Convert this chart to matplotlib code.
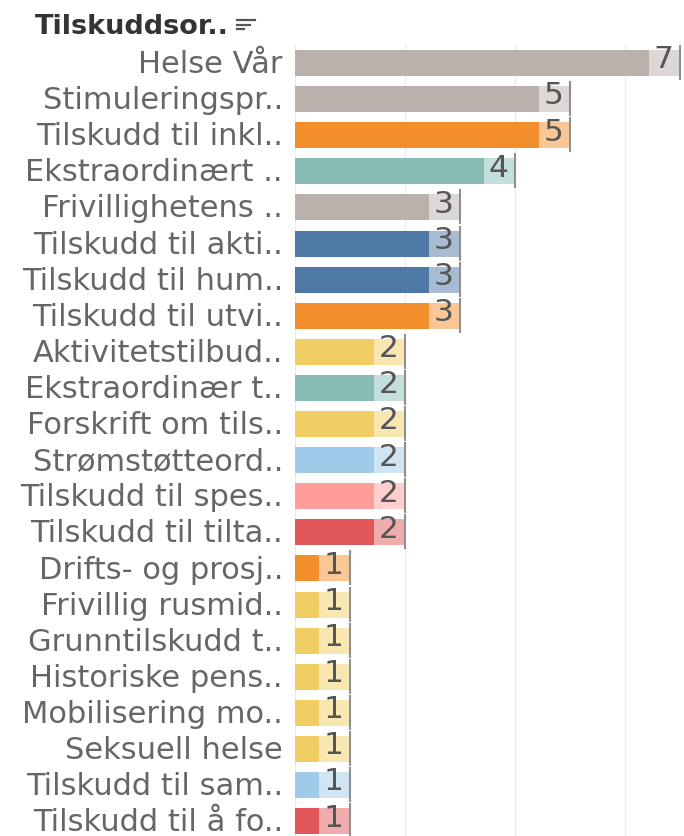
import matplotlib.pyplot as plt
from matplotlib.lines import Line2D
from matplotlib.colors import to_rgb

categories = [
    "Helse Vår", "Stimuleringspr..", "Tilskudd til inkl..", "Ekstraordinært ..",
    "Frivillighetens ..", "Tilskudd til akti..", "Tilskudd til hum..", "Tilskudd til utvi..",
    "Aktivitetstilbud..", "Ekstraordinær t..", "Forskrift om tils..", "Strømstøtteord..",
    "Tilskudd til spes..", "Tilskudd til tilta..", "Drifts- og prosj..", "Frivillig rusmid..",
    "Grunntilskudd t..", "Historiske pens..", "Mobilisering mo..", "Seksuell helse",
    "Tilskudd til sam..", "Tilskudd til å fo..",
]
values = [7, 5, 5, 4, 3, 3, 3, 3, 2, 2, 2, 2, 2, 2, 1, 1, 1, 1, 1, 1, 1, 1]
groups = [
    "gray", "gray", "orange", "teal", "gray", "blue", "blue", "orange",
    "yellow", "teal", "yellow", "lightblue", "pink", "red", "orange", "yellow",
    "yellow", "yellow", "yellow", "yellow", "lightblue", "red",
]

palette = {
    "gray": "#BAB0AC",
    "orange": "#F28E2B",
    "teal": "#86BCB6",
    "blue": "#4E79A7",
    "yellow": "#F1CE63",
    "lightblue": "#A0CBE8",
    "pink": "#FF9D9A",
    "red": "#E15759",
}


def lighten(c, f=0.5):
    r, g, b = to_rgb(c)
    return (r + (1 - r) * f, g + (1 - g) * f, b + (1 - b) * f)


W, H = 684, 837
fig = plt.figure(figsize=(W / 100, H / 100), dpi=100)
ax = fig.add_axes([295 / W, 0, 1 - 295 / W, 1 - 46 / H])

label_w = 0.56  # width of the label background, in data units
bar_h = 0.72
ypos = list(range(len(categories)))

for y, v, g in zip(ypos, values, groups):
    col = palette[g]
    ax.barh(y, v - label_w, height=bar_h, color=col, zorder=2)
    ax.barh(y, label_w, left=v - label_w, height=bar_h, color=lighten(col), zorder=2)
    ax.vlines(v, y - 0.5, y + 0.47, color="#8f8f8f", lw=1.5, zorder=3)
    ax.text(v - 0.3, y + 0.12, str(v), ha="center", va="baseline",
            fontsize=22.5, color="#555555", zorder=4)
    ax.text(-0.22, y + 0.25, categories[y], ha="right", va="baseline",
            fontsize=22, color="#666666", clip_on=False)

ax.set_xlim(0, 7.07)
ax.set_ylim(21.41, -0.5)
for gx in [0, 2, 4, 6]:
    ax.axvline(gx, color="#ebebeb", lw=1, zorder=0)
ax.set_xticks([])
ax.set_yticks([])
for s in ax.spines.values():
    s.set_visible(False)

# header
fig.text(35 / W, 1 - 34 / H, "Tilskuddsor..", fontsize=19.5, fontweight="bold",
         color="#333333", ha="left", va="baseline")
for (x0, x1, yy) in [(237, 255, 21), (237, 250, 25.5), (237, 244, 30)]:
    fig.add_artist(Line2D([x0 / W, x1 / W], [1 - yy / H, 1 - yy / H],
                          transform=fig.transFigure, color="#555555", lw=1.6))

fig.savefig("out.png", dpi=100)
